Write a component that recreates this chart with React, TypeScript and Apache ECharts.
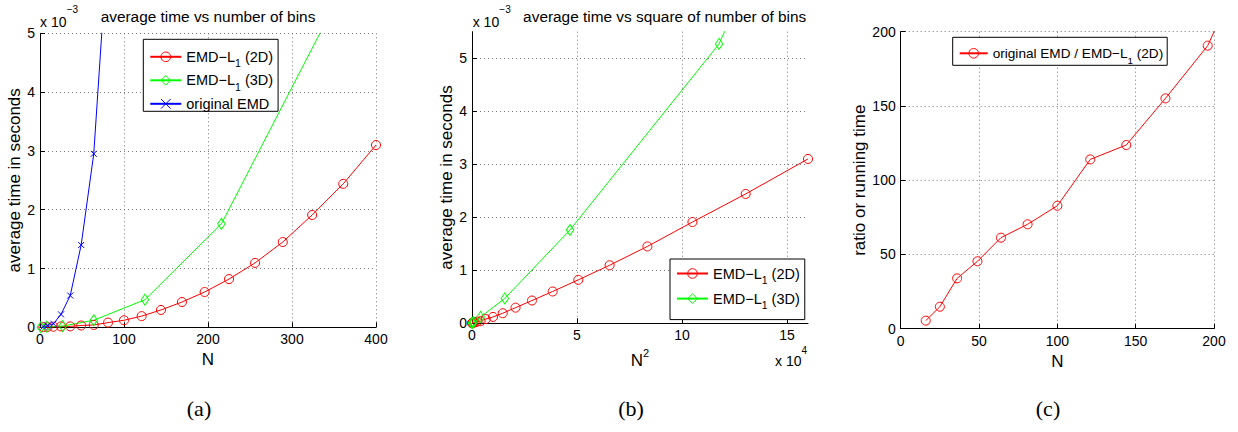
import React, { useEffect, useRef } from "react";
import * as echarts from "echarts";

// ---- data (times in units of 1e-3 s) ----
const N_2D = [4, 9, 16, 25, 36, 49, 64, 81, 100, 121, 144, 169, 196, 225, 256, 289, 324, 361, 400];
const T_2D = [0.003, 0.005, 0.01, 0.015, 0.016, 0.031, 0.04, 0.08, 0.12, 0.19, 0.295, 0.43, 0.6, 0.82, 1.095, 1.45, 1.91, 2.44, 3.1];
const N_3D = [1, 8, 27, 64, 125, 216, 343, 512];
const T_3D = [0.002, 0.01, 0.02, 0.12, 0.47, 1.76, 5.27, 18];
const N_ORIG = [4, 9, 16, 25, 36, 49, 64, 81, 100];
const T_ORIG = [0.01, 0.03, 0.06, 0.22, 0.54, 1.4, 2.95, 6.6, 9.9];
const N_RATIO = [16, 25, 36, 49, 64, 81, 100, 121, 144, 169, 196, 225];
const RATIO = [5.4, 14.8, 33.9, 45.4, 61.3, 70.3, 82.8, 114, 123.7, 155.1, 190.6, 258];

const TICKS_A_X = [0, 100, 200, 300, 400];
const TICKS_B_X = [0, 5, 10, 15];
const TICKS_C = [0, 50, 100, 150, 200];

const NAME_2D = "EMD\u2212L1 (2D)";
const NAME_3D = "EMD\u2212L1 (3D)";
const NAME_ORIG = "original EMD";
const NAME_RATIO = "original EMD / EMD\u2212L1 (2D)";

const FONT = "'Liberation Sans', Arial, Helvetica, sans-serif";
const RED = "#ff0000";
const GREEN = "#00ff00";
const BLUE = "#0000ff";
const X_SYMBOL = "path://M0,0L10,10M10,0L0,10";

const pairs = (xs: number[], ys: number[], f: (x: number) => number = (x) => x) =>
  xs.map((x, i) => [f(x), ys[i]]);

function richName(n: string) {
  const i = n.indexOf("L1");
  if (i < 0) return `{a|${n}}`;
  return `{a|${n.slice(0, i + 1)}}{s|1}{a|${n.slice(i + 2)}}`;
}

function legendRich(size: number) {
  return {
    a: { fontSize: size, fontFamily: FONT, color: "#000", lineHeight: 16, verticalAlign: "middle" },
    s: { fontSize: size * 0.72, fontFamily: FONT, color: "#000", lineHeight: 24, verticalAlign: "bottom" },
  };
}

function valueAxis(gridIndex: number, min: number, max: number, interval: number, extra: any = {}) {
  return {
    type: "value",
    gridIndex,
    min,
    max,
    interval,
    axisLine: { show: true, onZero: false, lineStyle: { color: "#000", width: 1 } },
    axisTick: { show: true, inside: true, length: 5, lineStyle: { color: "#000" } },
    axisLabel: { color: "#000", fontSize: 14, fontFamily: FONT, margin: 5 },
    splitLine: { show: true, lineStyle: { color: "#777", width: 1, type: [1, 3] } },
    nameTextStyle: { color: "#000", fontSize: 17, fontFamily: FONT },
    nameLocation: "middle",
    ...extra,
  };
}

function series(name: string, data: number[][], idx: number, color: string, symbol: string, symbolSize: any) {
  return {
    type: "line",
    name,
    data,
    xAxisIndex: idx,
    yAxisIndex: idx,
    symbol,
    symbolSize,
    showAllSymbol: true,
    clip: true,
    silent: true,
    lineStyle: { color, width: 1 },
    itemStyle: { color: "rgba(255,255,255,0)", borderColor: color, borderWidth: 1 },
    emphasis: { disabled: true },
  };
}

function legend(data: string[], left: number, top: number, padding: number[], itemGap: number, itemWidth: number, size: number) {
  return {
    data,
    orient: "vertical",
    left,
    top,
    padding,
    itemGap,
    itemWidth,
    itemHeight: 12,
    itemTextGap: 3,
    borderColor: "#000",
    borderWidth: 1,
    backgroundColor: "#fff",
    selectedMode: false,
    formatter: richName,
    itemStyle: { color: "rgba(255,255,255,0)", borderWidth: 1 },
    textStyle: { rich: legendRich(size) },
  };
}

export default function App() {
  const ref = useRef<HTMLDivElement>(null);
  useEffect(() => {
    document.body.style.margin = "0";
    const chart = echarts.init(ref.current!, undefined, { renderer: "svg" });
    const split = { show: true, showMaxLine: false, lineStyle: { color: "#777", width: 1, type: [1, 3] } };
    const labelNoMax = { color: "#000", fontSize: 14, fontFamily: FONT, margin: 5, showMaxLabel: false };
    const option: any = {
      animation: false,
      backgroundColor: "#fff",
      grid: [
        { left: 40, top: 33.3, width: 336, height: 294, containLabel: false, outerBoundsMode: "none" },
        { left: 472, top: 31.7, width: 336, height: 291.6, containLabel: false, outerBoundsMode: "none" },
        { left: 900.7, top: 31.7, width: 313.3, height: 297, containLabel: false, outerBoundsMode: "none" },
      ],
      xAxis: [
        valueAxis(0, TICKS_A_X[0], TICKS_A_X[TICKS_A_X.length - 1], 100, { name: "N", nameGap: 23 }),
        valueAxis(1, TICKS_B_X[0], 16, 5, {
          name: "{a|N}{s|2}",
          nameGap: 24,
          nameTextStyle: {
            rich: {
              a: { fontSize: 17, fontFamily: FONT, color: "#000", lineHeight: 22, verticalAlign: "bottom" },
              s: { fontSize: 11, fontFamily: FONT, color: "#000", lineHeight: 22, verticalAlign: "top" },
            },
          },
          axisLabel: labelNoMax,
          splitLine: split,
        }),
        valueAxis(2, TICKS_C[0], TICKS_C[TICKS_C.length - 1], 50, { name: "N", nameGap: 21 }),
      ],
      yAxis: [
        valueAxis(0, 0, 5, 1, { name: "average time in seconds", nameGap: 12 }),
        valueAxis(1, 0, 5.5, 1, {
          name: "average time in seconds",
          nameGap: 13,
          axisLabel: labelNoMax,
          splitLine: split,
        }),
        valueAxis(2, TICKS_C[0], TICKS_C[TICKS_C.length - 1], 50, { name: "ratio or running time", nameGap: 26 }),
      ],
      legend: [
        legend([NAME_2D, NAME_3D, NAME_ORIG], 143.3, 39.3, [10, 5, 0, 6], 4, 31, 14.5),
        legend([NAME_2D, NAME_3D], 670, 259, [7, 5, 9, 6], 5.6, 31, 14.5),
        legend([NAME_RATIO], 952.7, 37.3, [9, 4, 0, 6], 0, 28, 13.6),
      ],
      graphic: [
        { type: "text", x: 208, y: 16, style: { text: "average time vs number of bins", font: `15.4px ${FONT}`, fill: "#000", align: "center", verticalAlign: "middle" } },
        { type: "text", x: 664.7, y: 16.7, style: { text: "average time vs square of number of bins", font: `15.4px ${FONT}`, fill: "#000", align: "center", verticalAlign: "middle" } },
        { type: "text", x: 40, y: 21.7, style: { text: "x 10", font: `14px ${FONT}`, fill: "#000", align: "left", verticalAlign: "middle" } },
        { type: "text", x: 66.7, y: 9, style: { text: "\u22123", font: `10px ${FONT}`, fill: "#000", align: "left", verticalAlign: "middle" } },
        { type: "text", x: 472.7, y: 21.7, style: { text: "x 10", font: `14px ${FONT}`, fill: "#000", align: "left", verticalAlign: "middle" } },
        { type: "text", x: 499.3, y: 9, style: { text: "\u22123", font: `10px ${FONT}`, fill: "#000", align: "left", verticalAlign: "middle" } },
        { type: "text", x: 775, y: 361, style: { text: "x 10", font: `14px ${FONT}`, fill: "#000", align: "left", verticalAlign: "middle" } },
        { type: "text", x: 801.5, y: 350, style: { text: "4", font: `10px ${FONT}`, fill: "#000", align: "left", verticalAlign: "middle" } },
        { type: "text", x: 199, y: 408, style: { text: "(a)", font: `22px 'Liberation Serif', 'Times New Roman', serif`, fill: "#000", align: "center", verticalAlign: "middle" } },
        { type: "text", x: 631, y: 408, style: { text: "(b)", font: `22px 'Liberation Serif', 'Times New Roman', serif`, fill: "#000", align: "center", verticalAlign: "middle" } },
        { type: "text", x: 1048, y: 408, style: { text: "(c)", font: `22px 'Liberation Serif', 'Times New Roman', serif`, fill: "#000", align: "center", verticalAlign: "middle" } },
      ],
      series: [
        series(NAME_2D, pairs(N_2D, T_2D), 0, RED, "circle", 9),
        series(NAME_3D, pairs(N_3D, T_3D), 0, GREEN, "diamond", [7.5, 11]),
        series(NAME_ORIG, pairs(N_ORIG, T_ORIG), 0, BLUE, X_SYMBOL, 6),
        series(NAME_2D, pairs(N_2D, T_2D, (n) => (n * n) / 1e4), 1, RED, "circle", 9),
        series(NAME_3D, pairs(N_3D, T_3D, (n) => (n * n) / 1e4), 1, GREEN, "diamond", [7.5, 11]),
        series(NAME_RATIO, pairs(N_RATIO, RATIO), 2, RED, "circle", 9),
      ],
    };
    chart.setOption(option);
    return () => chart.dispose();
  }, []);
  return <div ref={ref} style={{ width: 1238, height: 432 }} />;
}
